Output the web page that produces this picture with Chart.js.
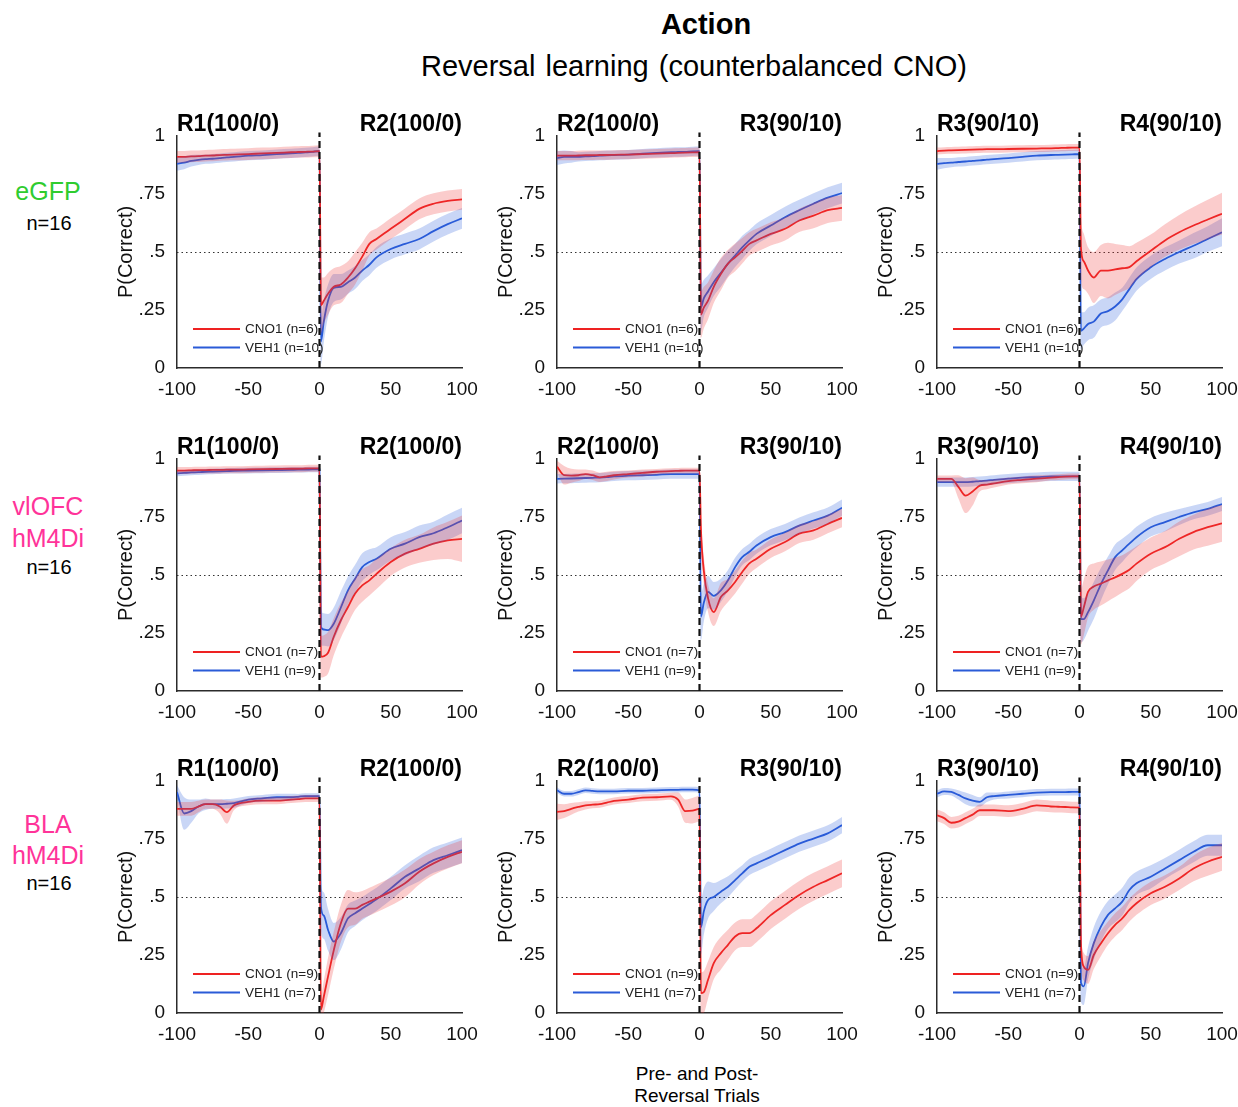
<!DOCTYPE html>
<html><head><meta charset="utf-8">
<script src="https://cdn.jsdelivr.net/npm/chart.js@4.4.0/dist/chart.umd.min.js"></script>
<style>
html,body{margin:0;padding:0;background:#fff;}
body{width:1238px;height:1107px;position:relative;overflow:hidden;font-family:"Liberation Sans",Arial,Helvetica,sans-serif;color:#000;}
.t{position:absolute;white-space:nowrap;line-height:1;}
canvas{position:absolute;}
</style></head><body>
<script>
// ---------- DATA ----------
const preTrials  = [-100,-95,-90,-85,-80,-75,-70,-65,-60,-50,-40,-30,-20,-15,-10,-5,0];
const postTrials = [1,3,6,10,15,20,25,30,35,40,50,60,70,80,90,100];
const xTickValues = [-100,-50,0,50,100];
const yTickValues = [0,0.25,0.5,0.75,1];
const yTickLabels = ['0','.25','.5','.75','1'];
const rowNames = [['eGFP'],['vlOFC','hM4Di'],['BLA','hM4Di']];
const rowN = ['n=16','n=16','n=16'];
const rowColors = ['#2fcc2f','#ff3399','#ff3399'];
const colTitles = [['R1(100/0)','R2(100/0)'],['R2(100/0)','R3(90/10)'],['R3(90/10)','R4(90/10)']];
const cnoN = [6,7,9];
const vehN = [10,9,7];

// eGFP
const egfp_r1r2_cnoMean = [0.91,0.91,0.912,0.913,0.915,0.916,0.918,0.919,0.92,0.922,0.925,0.927,0.93,0.931,0.932,0.933,0.935, 0.27,0.29,0.32,0.35,0.36,0.39,0.43,0.48,0.535,0.556,0.6,0.643,0.686,0.708,0.72,0.727];
const egfp_r1r2_cnoErr  = [0.025,0.025,0.025,0.025,0.025,0.025,0.025,0.025,0.025,0.025,0.025,0.025,0.025,0.025,0.025,0.025,0.025, 0.12,0.1,0.09,0.08,0.08,0.07,0.07,0.06,0.05,0.045,0.045,0.045,0.045,0.045,0.045,0.045];
const egfp_r1r2_vehMean = [0.88,0.885,0.893,0.897,0.9,0.902,0.905,0.908,0.91,0.915,0.918,0.922,0.925,0.927,0.929,0.932,0.935, 0.115,0.2,0.29,0.345,0.35,0.37,0.39,0.42,0.445,0.477,0.513,0.535,0.556,0.59,0.62,0.645];
const egfp_r1r2_vehErr  = [0.03,0.028,0.025,0.022,0.02,0.02,0.02,0.02,0.02,0.02,0.02,0.02,0.02,0.02,0.02,0.02,0.02, 0.1,0.09,0.07,0.06,0.055,0.05,0.05,0.045,0.045,0.045,0.045,0.045,0.045,0.045,0.045,0.045];

const egfp_r2r3_cnoMean = [0.915,0.915,0.915,0.916,0.917,0.917,0.918,0.918,0.919,0.92,0.922,0.924,0.926,0.927,0.928,0.929,0.93, 0.23,0.26,0.29,0.35,0.405,0.45,0.477,0.505,0.535,0.55,0.578,0.6,0.636,0.657,0.68,0.69];
const egfp_r2r3_cnoErr  = [0.02,0.02,0.02,0.02,0.02,0.02,0.02,0.02,0.02,0.02,0.02,0.02,0.02,0.02,0.02,0.02,0.02, 0.1,0.09,0.08,0.07,0.07,0.06,0.06,0.055,0.05,0.05,0.05,0.05,0.05,0.055,0.055,0.055];
const egfp_r2r3_vehMean = [0.905,0.91,0.91,0.91,0.912,0.913,0.915,0.917,0.918,0.92,0.924,0.927,0.93,0.931,0.932,0.934,0.935, 0.26,0.3,0.33,0.37,0.41,0.45,0.485,0.52,0.55,0.578,0.614,0.65,0.68,0.708,0.734,0.754];
const egfp_r2r3_vehErr  = [0.03,0.028,0.025,0.02,0.02,0.02,0.02,0.02,0.02,0.02,0.02,0.02,0.02,0.02,0.02,0.02,0.02, 0.1,0.08,0.07,0.06,0.06,0.055,0.05,0.05,0.045,0.045,0.045,0.045,0.045,0.045,0.045,0.045];

const egfp_r3r4_cnoMean = [0.935,0.937,0.938,0.939,0.94,0.941,0.942,0.943,0.943,0.944,0.945,0.946,0.947,0.948,0.949,0.95,0.95, 0.52,0.46,0.42,0.39,0.42,0.42,0.425,0.43,0.435,0.46,0.505,0.55,0.585,0.614,0.64,0.665];
const egfp_r3r4_cnoErr  = [0.015,0.015,0.015,0.015,0.015,0.015,0.015,0.015,0.015,0.015,0.015,0.015,0.015,0.015,0.015,0.015,0.015, 0.14,0.12,0.1,0.11,0.11,0.12,0.11,0.1,0.09,0.08,0.07,0.07,0.075,0.08,0.085,0.09];
const egfp_r3r4_vehMean = [0.88,0.883,0.885,0.888,0.89,0.893,0.895,0.898,0.9,0.905,0.91,0.915,0.918,0.919,0.92,0.921,0.922, 0.16,0.17,0.19,0.2,0.235,0.245,0.265,0.296,0.34,0.383,0.434,0.47,0.5,0.527,0.556,0.585];
const egfp_r3r4_vehErr  = [0.025,0.022,0.02,0.02,0.02,0.02,0.02,0.02,0.02,0.02,0.02,0.02,0.02,0.02,0.02,0.02,0.02, 0.08,0.07,0.07,0.07,0.06,0.06,0.06,0.05,0.05,0.05,0.05,0.05,0.05,0.055,0.055,0.06];

// vlOFC hM4Di
const vlofc_r1r2_cnoMean = [0.95,0.95,0.951,0.952,0.952,0.953,0.953,0.954,0.954,0.955,0.956,0.957,0.958,0.958,0.959,0.96,0.96, 0.148,0.15,0.165,0.234,0.305,0.362,0.42,0.455,0.477,0.505,0.556,0.592,0.613,0.635,0.649,0.656];
const vlofc_r1r2_cnoErr  = [0.015,0.015,0.015,0.015,0.015,0.015,0.015,0.015,0.015,0.015,0.015,0.015,0.015,0.015,0.015,0.015,0.015, 0.09,0.09,0.09,0.08,0.075,0.07,0.07,0.07,0.065,0.065,0.06,0.06,0.06,0.07,0.08,0.1];
const vlofc_r1r2_vehMean = [0.938,0.94,0.942,0.943,0.945,0.946,0.947,0.948,0.949,0.95,0.951,0.952,0.953,0.954,0.954,0.955,0.955, 0.277,0.265,0.262,0.29,0.36,0.434,0.484,0.534,0.556,0.57,0.613,0.635,0.663,0.68,0.706,0.735];
const vlofc_r1r2_vehErr  = [0.012,0.012,0.012,0.012,0.012,0.012,0.012,0.012,0.012,0.012,0.012,0.012,0.012,0.012,0.012,0.012,0.012, 0.08,0.07,0.07,0.07,0.07,0.06,0.06,0.06,0.055,0.05,0.05,0.05,0.05,0.05,0.055,0.055];

const vlofc_r2r3_cnoMean = [0.967,0.93,0.928,0.93,0.935,0.93,0.921,0.925,0.93,0.935,0.94,0.945,0.948,0.949,0.95,0.95,0.95, 0.7,0.52,0.4,0.34,0.405,0.434,0.47,0.513,0.55,0.57,0.613,0.642,0.678,0.692,0.72,0.746];
const vlofc_r2r3_cnoErr  = [0.025,0.04,0.03,0.025,0.02,0.02,0.02,0.02,0.018,0.015,0.015,0.012,0.012,0.012,0.012,0.012,0.012, 0.06,0.06,0.06,0.06,0.06,0.05,0.05,0.05,0.045,0.04,0.04,0.04,0.04,0.04,0.04,0.04];
const vlofc_r2r3_vehMean = [0.914,0.915,0.916,0.917,0.918,0.919,0.92,0.922,0.925,0.928,0.93,0.932,0.935,0.935,0.935,0.935,0.935, 0.32,0.38,0.427,0.41,0.434,0.477,0.534,0.577,0.6,0.627,0.663,0.685,0.713,0.735,0.756,0.79];
const vlofc_r2r3_vehErr  = [0.02,0.02,0.02,0.02,0.02,0.02,0.02,0.02,0.02,0.02,0.02,0.02,0.02,0.02,0.02,0.02,0.02, 0.1,0.08,0.07,0.06,0.05,0.045,0.04,0.035,0.035,0.035,0.035,0.035,0.035,0.035,0.035,0.035];

const vlofc_r3r4_cnoMean = [0.914,0.914,0.914,0.88,0.842,0.86,0.885,0.89,0.895,0.905,0.91,0.915,0.92,0.922,0.924,0.925,0.925, 0.32,0.36,0.427,0.45,0.463,0.477,0.49,0.505,0.523,0.549,0.592,0.62,0.656,0.685,0.706,0.723];
const vlofc_r3r4_cnoErr  = [0.015,0.015,0.015,0.05,0.075,0.06,0.025,0.02,0.018,0.015,0.015,0.015,0.012,0.012,0.012,0.012,0.012, 0.12,0.12,0.11,0.1,0.095,0.09,0.085,0.08,0.08,0.075,0.07,0.07,0.075,0.075,0.08,0.08];
const vlofc_r3r4_vehMean = [0.9,0.9,0.9,0.9,0.9,0.902,0.905,0.907,0.91,0.915,0.92,0.922,0.925,0.925,0.925,0.925,0.925, 0.31,0.31,0.34,0.39,0.46,0.52,0.577,0.606,0.635,0.663,0.706,0.728,0.75,0.77,0.785,0.806];
const vlofc_r3r4_vehErr  = [0.02,0.02,0.02,0.02,0.02,0.02,0.02,0.02,0.02,0.02,0.02,0.02,0.02,0.02,0.02,0.02,0.02, 0.1,0.09,0.08,0.08,0.07,0.06,0.055,0.05,0.045,0.045,0.04,0.04,0.035,0.03,0.03,0.03];

// BLA hM4Di
const bla_r1r2_cnoMean = [0.88,0.88,0.88,0.89,0.9,0.9,0.89,0.866,0.895,0.91,0.915,0.915,0.92,0.922,0.925,0.925,0.925, 0.015,0.07,0.158,0.27,0.387,0.45,0.45,0.466,0.48,0.494,0.523,0.559,0.609,0.645,0.673,0.695];
const bla_r1r2_cnoErr  = [0.03,0.03,0.03,0.025,0.02,0.02,0.03,0.05,0.02,0.015,0.015,0.015,0.015,0.015,0.015,0.015,0.015, 0.06,0.07,0.08,0.08,0.08,0.08,0.07,0.06,0.06,0.06,0.06,0.06,0.055,0.05,0.05,0.05];
const bla_r1r2_vehMean = [0.952,0.86,0.87,0.89,0.9,0.9,0.9,0.902,0.905,0.92,0.925,0.93,0.93,0.932,0.935,0.935,0.935, 0.458,0.42,0.358,0.308,0.344,0.408,0.43,0.45,0.47,0.49,0.537,0.587,0.623,0.659,0.68,0.702];
const bla_r1r2_vehErr  = [0.03,0.07,0.05,0.03,0.025,0.02,0.02,0.02,0.02,0.015,0.015,0.015,0.015,0.012,0.012,0.012,0.012, 0.1,0.1,0.09,0.08,0.07,0.06,0.055,0.05,0.05,0.05,0.05,0.05,0.055,0.055,0.055,0.055];

const bla_r2r3_cnoMean = [0.867,0.87,0.88,0.888,0.895,0.898,0.9,0.907,0.914,0.92,0.928,0.93,0.934,0.92,0.87,0.872,0.88, 0.086,0.09,0.143,0.215,0.258,0.294,0.33,0.344,0.344,0.365,0.422,0.466,0.509,0.544,0.573,0.602];
const bla_r2r3_cnoErr  = [0.035,0.03,0.025,0.02,0.018,0.015,0.015,0.015,0.015,0.015,0.015,0.015,0.015,0.03,0.05,0.055,0.055, 0.09,0.09,0.08,0.07,0.07,0.065,0.06,0.06,0.06,0.06,0.06,0.06,0.06,0.06,0.06,0.06];
const bla_r2r3_vehMean = [0.96,0.945,0.945,0.952,0.96,0.957,0.955,0.955,0.955,0.958,0.958,0.96,0.962,0.962,0.963,0.963,0.96, 0.37,0.437,0.487,0.5,0.523,0.544,0.573,0.602,0.63,0.645,0.673,0.702,0.73,0.752,0.774,0.81];
const bla_r2r3_vehErr  = [0.012,0.012,0.012,0.012,0.012,0.012,0.012,0.012,0.012,0.012,0.012,0.012,0.012,0.012,0.012,0.012,0.012, 0.12,0.1,0.08,0.06,0.05,0.045,0.04,0.035,0.035,0.035,0.035,0.035,0.035,0.035,0.035,0.035];

const bla_r3r4_cnoMean = [0.852,0.84,0.82,0.825,0.84,0.855,0.874,0.874,0.874,0.87,0.88,0.895,0.89,0.889,0.888,0.886,0.885, 0.3,0.2,0.186,0.25,0.3,0.344,0.38,0.408,0.444,0.473,0.516,0.544,0.58,0.623,0.652,0.673];
const bla_r3r4_cnoErr  = [0.025,0.025,0.025,0.025,0.025,0.025,0.025,0.025,0.025,0.025,0.025,0.025,0.025,0.025,0.025,0.025,0.025, 0.07,0.06,0.06,0.06,0.055,0.05,0.05,0.05,0.05,0.05,0.05,0.05,0.05,0.055,0.06,0.06];
const bla_r3r4_vehMean = [0.945,0.955,0.953,0.94,0.925,0.915,0.91,0.93,0.935,0.94,0.945,0.95,0.952,0.952,0.952,0.953,0.953, 0.13,0.115,0.215,0.3,0.372,0.423,0.451,0.48,0.53,0.559,0.587,0.623,0.659,0.695,0.723,0.723];
const bla_r3r4_vehErr  = [0.015,0.015,0.015,0.02,0.025,0.025,0.02,0.02,0.015,0.015,0.015,0.015,0.015,0.015,0.015,0.015,0.015, 0.08,0.08,0.07,0.07,0.065,0.06,0.06,0.06,0.055,0.05,0.05,0.045,0.045,0.045,0.045,0.045];

// ---------- LAYOUT / STYLE ----------
const trials = preTrials.concat(postTrials);
const panelData = [
  [[egfp_r1r2_cnoMean,egfp_r1r2_cnoErr,egfp_r1r2_vehMean,egfp_r1r2_vehErr],
   [egfp_r2r3_cnoMean,egfp_r2r3_cnoErr,egfp_r2r3_vehMean,egfp_r2r3_vehErr],
   [egfp_r3r4_cnoMean,egfp_r3r4_cnoErr,egfp_r3r4_vehMean,egfp_r3r4_vehErr]],
  [[vlofc_r1r2_cnoMean,vlofc_r1r2_cnoErr,vlofc_r1r2_vehMean,vlofc_r1r2_vehErr],
   [vlofc_r2r3_cnoMean,vlofc_r2r3_cnoErr,vlofc_r2r3_vehMean,vlofc_r2r3_vehErr],
   [vlofc_r3r4_cnoMean,vlofc_r3r4_cnoErr,vlofc_r3r4_vehMean,vlofc_r3r4_vehErr]],
  [[bla_r1r2_cnoMean,bla_r1r2_cnoErr,bla_r1r2_vehMean,bla_r1r2_vehErr],
   [bla_r2r3_cnoMean,bla_r2r3_cnoErr,bla_r2r3_vehMean,bla_r2r3_vehErr],
   [bla_r3r4_cnoMean,bla_r3r4_cnoErr,bla_r3r4_vehMean,bla_r3r4_vehErr]]
];

const FONT = '"Liberation Sans", Arial, Helvetica, sans-serif';
Chart.defaults.font.family = FONT;
const COLS = [177,557,937];
const ROWS = [136,459,781];
const PW = 285, PH = 232;
const PADL = 80, PADT = 10, PADR = 24, PADB = 44;
const RED = '#ee2222', BLUE = '#2a5bd7';
const RED_BAND = 'rgba(240,50,50,0.25)', BLUE_BAND = 'rgba(40,90,220,0.25)';
const AXIS = '#2b2b2b';

function addText(txt, x, y, css, anchor) {
  const d = document.createElement('div');
  d.className = 't';
  d.textContent = txt;
  d.style.cssText += css;
  d.style.left = x + 'px';
  d.style.top = y + 'px';
  d.style.transform = anchor || 'translate(-50%,-50%)';
  document.body.appendChild(d);
  return d;
}

// figure titles
addText('Action', 706, 24, 'font-weight:bold;font-size:29px;');
addText('Reversal learning (counterbalanced CNO)', 694, 66, 'font-size:29px;word-spacing:2px;');
addText('Pre- and Post-', 697, 1073, 'font-size:19px;');
addText('Reversal Trials', 697, 1095, 'font-size:19px;');

// row labels
const rowLabelY = [[191, 223], [506, 538, 567], [824, 855, 883]];
rowNames.forEach((names, r) => {
  names.forEach((nm, i) => addText(nm, 48, rowLabelY[r][i], 'font-size:25px;color:' + rowColors[r] + ';'));
  addText(rowN[r], 49, rowLabelY[r][names.length], 'font-size:20px;color:#000;');
});

function series(means, errs, sign) {
  return trials.map((x, i) => ({x: x, y: means[i] + sign * errs[i]}));
}
function line(means) {
  return trials.map((x, i) => ({x: x, y: means[i]}));
}

const refLines = {
  id: 'refLines',
  beforeDatasetsDraw(chart) {
    const {ctx, chartArea: a, scales: {x, y}} = chart;
    ctx.save();
    ctx.strokeStyle = '#333';
    ctx.lineWidth = 1;
    ctx.setLineDash([1.5, 3]);
    const yy = Math.round(y.getPixelForValue(0.5)) + 0.5;
    ctx.beginPath(); ctx.moveTo(a.left, yy); ctx.lineTo(a.right, yy); ctx.stroke();
    ctx.restore();
  },
  afterDatasetsDraw(chart, args, opts) {
    const {ctx, chartArea: a, scales: {x, y}} = chart;
    ctx.save();
    const items = [[RED, 'CNO1 (n=' + opts.cno + ')'], [BLUE, 'VEH1 (n=' + opts.veh + ')']];
    items.forEach((it, i) => {
      const ly = a.bottom - 39 + i * 18.5;
      ctx.strokeStyle = it[0]; ctx.lineWidth = 1.8; ctx.setLineDash([]);
      ctx.beginPath(); ctx.moveTo(a.left + 16, ly); ctx.lineTo(a.left + 63, ly); ctx.stroke();
      ctx.fillStyle = '#222'; ctx.font = '13.5px ' + FONT; ctx.textBaseline = 'middle'; ctx.textAlign = 'left';
      ctx.fillText(it[1], a.left + 68, ly + 0.5);
    });
    const xx = x.getPixelForValue(0);
    ctx.strokeStyle = '#111'; ctx.lineWidth = 2.2; ctx.setLineDash([7, 4]);
    ctx.beginPath(); ctx.moveTo(xx, y.getPixelForValue(0)); ctx.lineTo(xx, y.getPixelForValue(1.015)); ctx.stroke();
    ctx.restore();
  }
};

for (let r = 0; r < 3; r++) {
  for (let c = 0; c < 3; c++) {
    const L = COLS[c], T = ROWS[r];
    const [cm, ce, vm, ve] = panelData[r][c];
    const cv = document.createElement('canvas');
    const W = PADL + PW + PADR, H = PADT + PH + PADB;
    cv.width = W; cv.height = H;
    cv.style.left = (L - PADL) + 'px'; cv.style.top = (T - PADT) + 'px';
    cv.style.width = W + 'px'; cv.style.height = H + 'px';
    document.body.appendChild(cv);

    addText(colTitles[c][0], L, T - 13, 'font-weight:bold;font-size:23px;', 'translate(0,-50%)');
    addText(colTitles[c][1], L + PW, T - 13, 'font-weight:bold;font-size:23px;', 'translate(-100%,-50%)');

    const common = {pointRadius: 0, pointHoverRadius: 0, cubicInterpolationMode: 'monotone'};
    new Chart(cv, {
      type: 'line',
      data: {datasets: [
        Object.assign({data: series(cm, ce, -1), borderWidth: 0, borderColor: 'rgba(0,0,0,0)', fill: false}, common),
        Object.assign({data: series(cm, ce, 1), borderWidth: 0, borderColor: 'rgba(0,0,0,0)', backgroundColor: RED_BAND, fill: '-1'}, common),
        Object.assign({data: series(vm, ve, -1), borderWidth: 0, borderColor: 'rgba(0,0,0,0)', fill: false}, common),
        Object.assign({data: series(vm, ve, 1), borderWidth: 0, borderColor: 'rgba(0,0,0,0)', backgroundColor: BLUE_BAND, fill: '-1'}, common),
        Object.assign({label: 'CNO1', data: line(cm), borderWidth: 1.8, borderColor: RED, fill: false}, common),
        Object.assign({label: 'VEH1', data: line(vm), borderWidth: 1.8, borderColor: BLUE, fill: false}, common)
      ]},
      options: {
        responsive: false, animation: false, devicePixelRatio: 1,
        layout: {padding: {left: 0, top: PADT, right: PADR, bottom: 0}},
        plugins: {legend: {display: false}, tooltip: {enabled: false}, refLines: {cno: cnoN[r], veh: vehN[r]}},
        scales: {
          x: {
            type: 'linear', min: -100, max: 100,
            grid: {display: false, drawTicks: false},
            border: {display: true, color: AXIS, width: 1.5},
            ticks: {padding: 10, color: '#111', font: {size: 19}, maxRotation: 0, autoSkip: false, callback: v => String(v)},
            afterBuildTicks: s => { s.ticks = xTickValues.map(v => ({value: v})); },
            afterFit: s => { s.height = PADB; s.paddingLeft = 0; s.paddingRight = 0; }
          },
          y: {
            min: 0, max: 1,
            grid: {display: false, drawTicks: false},
            border: {display: true, color: AXIS, width: 1.5},
            ticks: {padding: 12, color: '#111', font: {size: 19}, autoSkip: false,
                    callback: v => yTickLabels[yTickValues.indexOf(v)]},
            afterBuildTicks: s => { s.ticks = yTickValues.map(v => ({value: v})); },
            title: {display: true, text: 'P(Correct)', color: '#111', font: {size: 20}, padding: {top: 17, bottom: 0}},
            afterFit: s => { s.width = PADL; s.paddingTop = 0; s.paddingBottom = 0; }
          }
        }
      },
      plugins: [refLines]
    });
  }
}
</script>
</body></html>
